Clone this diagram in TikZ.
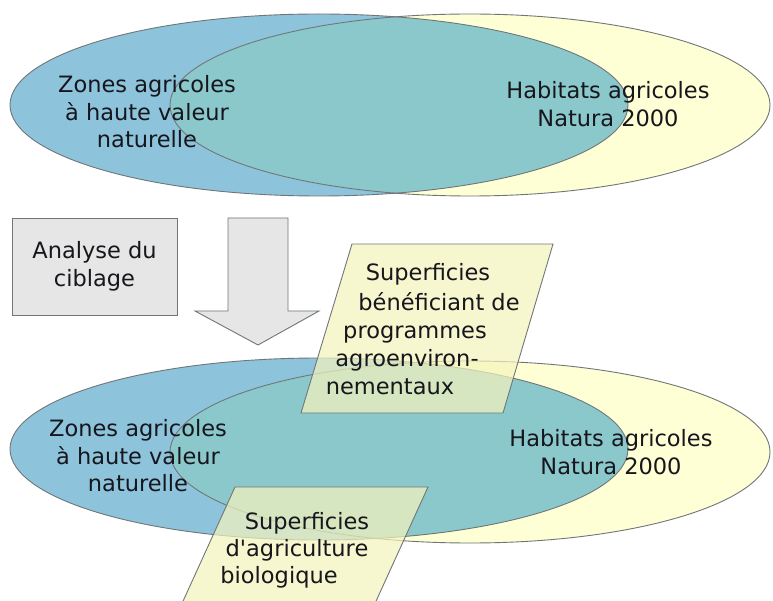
\documentclass[tikz,border=0pt]{standalone}
\usepackage{fontspec}
\setmainfont{DejaVu Sans}
\definecolor{zblue}{RGB}{141,196,220}
\definecolor{zteal}{RGB}{139,200,204}
\definecolor{zyellow}{RGB}{255,255,213}
\definecolor{zpar}{RGB}{245,244,188}
\definecolor{zline}{RGB}{112,118,120}
\definecolor{zgray}{RGB}{230,230,230}
\definecolor{ztext}{RGB}{22,22,28}
\begin{document}
\begin{tikzpicture}[x=1pt,y=-1pt,
  outl/.style={draw=zline,line width=0.9pt},
  lbl/.style={inner sep=0pt,align=center,text=ztext,font=\fontsize{22.5}{27.5}\selectfont},
  pline/.style={inner sep=0pt,anchor=base,text=ztext,font=\fontsize{22.5}{27.5}\selectfont},
  parbox/.style={fill=zpar,fill opacity=0.7,draw=zline,draw opacity=1,line width=0.9pt}]
\clip (0,0) rectangle (773,601);
\fill[white] (0,0) rectangle (773,601);
% ---------- top ellipses ----------
\fill[zblue] (319,105) ellipse [x radius=309, y radius=91];
\fill[zyellow] (470,105) ellipse [x radius=300, y radius=91];
\begin{scope}
  \clip (319,105) ellipse [x radius=309, y radius=91];
  \fill[zteal] (470,105) ellipse [x radius=300, y radius=91];
\end{scope}
\draw[outl] (319,105) ellipse [x radius=309, y radius=91];
\draw[outl] (470,105) ellipse [x radius=300, y radius=91];
\node[lbl] (tz) at (147,112) {Zones agricoles\\à haute valeur\\naturelle};
\node[lbl] (th) at (608,104) {Habitats agricoles\\Natura 2000};
% ---------- analyse box and arrow ----------
\node[draw=zline,fill=zgray,line width=0.9pt,minimum width=165pt,minimum height=97pt,lbl] (an) at (94.5,266.5) {Analyse du\\ciblage};
\draw[draw=zline,fill=zgray,line width=0.9pt,line join=miter]
  (228,218) coordinate (a1) -- (288,218) -- (288,311) -- (319,311) -- (258,345) coordinate (tip) -- (195,311) -- (228,311) -- cycle;
% ---------- bottom ellipses ----------
\fill[zblue] (319,449) ellipse [x radius=309, y radius=91];
\fill[zyellow] (470,452) ellipse [x radius=300, y radius=91];
\begin{scope}
  \clip (319,449) ellipse [x radius=309, y radius=91];
  \fill[zteal] (470,452) ellipse [x radius=300, y radius=91];
\end{scope}
\draw[outl] (319,449) ellipse [x radius=309, y radius=91];
\draw[outl] (470,452) ellipse [x radius=300, y radius=91];
\node[lbl] (bz) at (138,456) {Zones agricoles\\à haute valeur\\naturelle};
\node[lbl] (bh) at (611,452) {Habitats agricoles\\Natura 2000};
% ---------- parallelogram 1 ----------
\path[parbox] (352,244) -- (553,244) -- (503,413) -- (301,413) -- cycle;
\node[pline] (p1a) at (428,281) {Superficies};
\node[pline] (p1b) at (439,311) {bénéficiant de};
\node[pline] (p1c) at (415,338) {programmes};
\node[pline] (p1d) at (407,366) {agroenviron-};
\node[pline] (p1e) at (390,394) {nementaux};
% ---------- parallelogram 2 ----------
\path[parbox] (235,487) -- (428,487) -- (372,610) -- (179,610) -- cycle;
\node[pline] (p2a) at (307,529) {Superficies};
\node[pline] (p2b) at (297,556) {d\textquotesingle agriculture};
\node[pline] (p2c) at (279,583) {biologique};
\end{tikzpicture}
\end{document}
